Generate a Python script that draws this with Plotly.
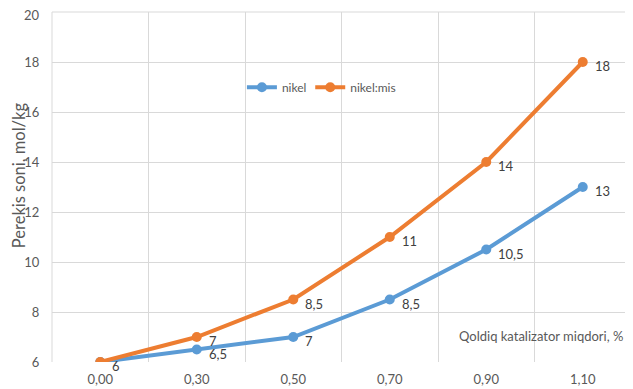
import plotly.graph_objects as go

categories = ["0,00", "0,30", "0,50", "0,70", "0,90", "1,10"]
nikel = [6, 6.5, 7, 8.5, 10.5, 13]
nikel_mis = [6, 7, 8.5, 11, 14, 18]
nikel_labels = ["6", "6,5", "7", "8,5", "10,5", "13"]
nikel_mis_labels = ["", "7", "8,5", "11", "14", "18"]
y_ticks = [6, 8, 10, 12, 14, 16, 18, 20]
y_tick_labels = ["6", "8", "10", "12", "14", "16", "18", "20"]

FONT = "Lato, Carlito, Calibri, sans-serif"
BLUE = "#5B9BD5"
ORANGE = "#ED7D31"
TXT = "#595959"
GRID = "#D9D9D9"

fig = go.Figure()
fig.add_trace(go.Scatter(
    x=categories, y=nikel, name="nikel", mode="lines+markers", legend="legend",
    line=dict(color=BLUE, width=4), marker=dict(size=10, color=BLUE),
))
fig.add_trace(go.Scatter(
    x=categories, y=nikel_mis, name="nikel:mis", mode="lines+markers", legend="legend2",
    line=dict(color=ORANGE, width=4), marker=dict(size=10, color=ORANGE),
))

annotations = []
for xs, ys, labels in ((categories, nikel, nikel_labels), (categories, nikel_mis, nikel_mis_labels)):
    for xv, yv, lab in zip(xs, ys, labels):
        if lab:
            annotations.append(dict(x=xv, y=yv, xref="x", yref="y", text=lab, showarrow=False,
                                    xanchor="left", yanchor="middle", xshift=10, yshift=-4,
                                    font=dict(family=FONT, size=13, color="#404040")))

# top tick label drawn as annotation nudged down slightly so it is not clipped
shown_ticks = [t if v != max(y_ticks) else "" for v, t in zip(y_ticks, y_tick_labels)]
annotations.append(dict(x=0, y=max(y_ticks), xref="paper", yref="y",
                        text=y_tick_labels[-1], showarrow=False, xanchor="right",
                        yanchor="middle", xshift=-10, yshift=-3,
                        font=dict(family=FONT, size=13, color=TXT)))

annotations.append(dict(text="Qoldiq katalizator miqdori, %", xref="paper", yref="paper",
                        x=0.99, y=0.075, xanchor="right", yanchor="middle", showarrow=False,
                        font=dict(family=FONT, size=13, color=TXT)))
annotations.append(dict(text="Perekis soni, mol/kg", xref="paper", yref="paper",
                        x=-0.058, y=0.535, xanchor="center", yanchor="middle", textangle=-90,
                        showarrow=False, font=dict(family=FONT, size=16.5, color=TXT)))

legend_common = dict(orientation="h", yanchor="middle", xanchor="left", y=0.785,
                     bgcolor="rgba(0,0,0,0)", font=dict(family=FONT, size=12, color=TXT),
                     itemwidth=30)

fig.update_layout(
    width=625, height=381,
    margin=dict(l=44, r=2, t=4, b=27, autoexpand=False),
    paper_bgcolor="white", plot_bgcolor="white",
    font=dict(family=FONT, size=13, color=TXT),
    showlegend=True,
    legend=dict(x=0.328, **legend_common),
    legend2=dict(x=0.446, **legend_common),
    xaxis=dict(type="category", tickson="boundaries", showgrid=True, gridcolor=GRID,
               gridwidth=1, ticks="", ticklabelstandoff=8,
               showline=False, zeroline=False, automargin=False,
               tickfont=dict(family=FONT, size=13, color=TXT), range=[-0.5, 5.5]),
    yaxis=dict(range=[6, 20], tickvals=y_ticks, ticktext=shown_ticks, showgrid=True,
               gridcolor=GRID, zeroline=False, showline=False, ticks="outside", ticklen=9,
               tickcolor="rgba(0,0,0,0)", automargin=False,
               tickfont=dict(family=FONT, size=13, color=TXT)),
    annotations=annotations,
    shapes=[dict(type="line", xref="paper", yref="paper", x0=0, x1=0, y0=0, y1=1,
                 line=dict(color=GRID, width=1), layer="below"),
            dict(type="line", xref="paper", yref="paper", x0=0, x1=1, y0=1, y1=1,
                 line=dict(color=GRID, width=1), layer="below")],
)

fig.write_html("out.html")
